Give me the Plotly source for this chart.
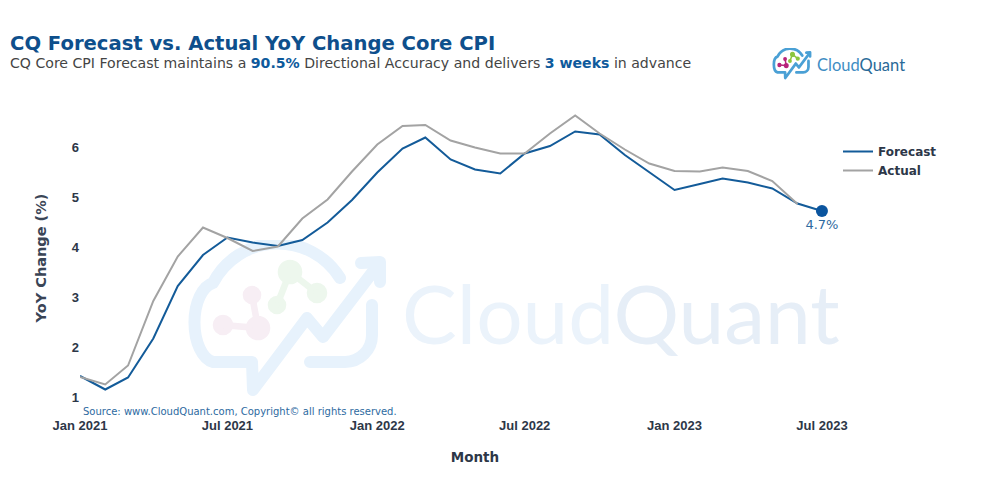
import base64
import plotly.graph_objects as go
import pandas as pd

# monthly points, Jan 2021 .. Jul 2023
months = pd.date_range("2021-01-01", "2023-07-01", freq="MS")

forecast = [1.42, 1.15, 1.39, 2.17, 3.22, 3.84, 4.19, 4.09, 4.02, 4.14, 4.49, 4.94,
            5.49, 5.97, 6.19, 5.75, 5.55, 5.47, 5.87, 6.02, 6.31, 6.25, 5.84, 5.49,
            5.14, 5.26, 5.37, 5.29, 5.17, 4.87, 4.72]
actual = [1.40, 1.25, 1.63, 2.92, 3.81, 4.39, 4.18, 3.92, 4.01, 4.57, 4.95, 5.51,
          6.05, 6.42, 6.44, 6.13, 5.99, 5.87, 5.87, 6.27, 6.63, 6.27, 5.95, 5.67,
          5.52, 5.51, 5.59, 5.52, 5.32, 4.86]

# page layout in pixels (page has an 8px body margin)
W, H = 1000, 500
OFF = 8
L, T = 80 - OFF, 100 - OFF
R, B = W - (870 - OFF), H - (416 - OFF)
PW, PH = W - L - R, H - T - B


def px(x):
    return (x - OFF - L) / PW


def py(y):
    return (H - B - (y - OFF)) / PH


def cloud_svg(stroke, pink, green, sw):
    # cloud + arrow icon, drawn in page pixel coordinates
    svg = f'''<svg xmlns="http://www.w3.org/2000/svg" viewBox="185 240 205 160" width="205" height="160" preserveAspectRatio="none">
<g fill="none" stroke="{stroke}" stroke-width="{sw}" stroke-linecap="round" stroke-linejoin="round">
<path d="M 340 278 A 73 73 0 0 0 213 283 A 22 40 0 0 0 213 362 L 252 362 L 253 390 L 307 318 L 323 337 L 378 265"/>
<path d="M 361 263 L 380 262 L 380 282"/>
<path d="M 372 305 L 372 335 A 27 27 0 0 1 345 362 L 310 362"/>
</g>
<g stroke="{pink}" stroke-width="{sw * 0.55}" fill="{pink}">
<line x1="252" y1="295" x2="258" y2="328"/><line x1="223" y1="325" x2="258" y2="328"/>
<circle cx="252" cy="295" r="6"/><circle cx="223" cy="325" r="7"/><circle cx="258" cy="328" r="9"/>
</g>
<g stroke="{green}" stroke-width="{sw * 0.55}" fill="{green}">
<line x1="277" y1="305" x2="290" y2="272"/><line x1="290" y1="272" x2="317" y2="293"/>
<circle cx="290" cy="272" r="9"/><circle cx="277" cy="305" r="6"/><circle cx="317" cy="293" r="7"/>
</g>
</svg>'''
    return "data:image/svg+xml;base64," + base64.b64encode(svg.encode()).decode()


fig = go.Figure()

fig.add_trace(go.Scatter(
    x=months, y=forecast, name="Forecast", mode="lines",
    line=dict(color="#135b99", width=2)
))
fig.add_trace(go.Scatter(
    x=months[:len(actual)], y=actual, name="Actual", mode="lines",
    line=dict(color="#a3a3a3", width=2)
))
# last forecast point
fig.add_trace(go.Scatter(
    x=[months[-1]], y=[forecast[-1]], mode="markers+text",
    marker=dict(color="#0b559f", size=12),
    text=[f"{forecast[-1]:.1f}%"], textposition="bottom center",
    textfont=dict(family="DejaVu Sans", size=13, color="#2d6aa0"),
    cliponaxis=False, showlegend=False
))

dark = "#2d3748"

fig.update_layout(
    width=W, height=H,
    margin=dict(l=L, r=R, t=T, b=B),
    paper_bgcolor="white",
    plot_bgcolor="rgba(0,0,0,0)",
    font=dict(family="DejaVu Sans", color=dark),
    title=dict(
        text="<b>CQ Forecast vs. Actual YoY Change Core CPI</b>",
        x=2 / W, xanchor="left", y=1 - (43 - OFF) / H, yanchor="middle",
        font=dict(family="DejaVu Sans", size=19.6, color="#0e4f8c")
    ),
    xaxis=dict(
        range=["2021-01-01", "2023-08-29"],
        dtick="M6", tick0="2021-01-01", tickformat="%b %Y",
        showgrid=False, zeroline=False, showline=False,
        tickfont=dict(family="Liberation Sans", size=13, color=dark, weight="bold"),
        title=dict(text="<b>Month</b>", font=dict(family="DejaVu Sans", size=13.5, color=dark), standoff=20)
    ),
    yaxis=dict(
        range=[0.62, 6.94], dtick=1,
        showgrid=False, zeroline=False, showline=False,
        tickfont=dict(family="Liberation Sans", size=13, color=dark, weight="bold"),
        title=dict(text="<b>YoY Change (%)</b>", font=dict(family="DejaVu Sans", size=14.5, color="#3a4556"),
                   standoff=21)
    ),
    legend=dict(
        x=px(838), y=py(137), xanchor="left", yanchor="top",
        font=dict(family="DejaVu Sans", size=12, color=dark, weight="bold"),
        bgcolor="rgba(0,0,0,0)"
    ),
    showlegend=True,
)

# subtitle
fig.add_annotation(
    text='CQ Core CPI Forecast maintains a <b><span style="color:#0e5a9c">90.5%</span></b> '
         'Directional Accuracy and delivers <b><span style="color:#0e5a9c">3 weeks</span></b> in advance',
    xref="paper", yref="paper", x=px(8), y=py(63), xanchor="left", yanchor="middle",
    showarrow=False, font=dict(family="DejaVu Sans", size=14.1, color="#444444")
)

# source note
fig.add_annotation(
    text="Source: www.CloudQuant.com, Copyright© all rights reserved.",
    xref="paper", yref="paper", x=px(81), y=py(411), xanchor="left", yanchor="middle",
    showarrow=False, font=dict(family="DejaVu Sans", size=10, color="#2d6a9f")
)

# watermark
fig.add_annotation(
    text='<span style="color:#ebf3fb">Cloud</span><span style="color:#e6eef7">Quant</span>',
    xref="paper", yref="paper", x=px(621), y=py(312), xanchor="center", yanchor="middle",
    showarrow=False, font=dict(family="Lato", size=82, color="#e8f0f8")
)
fig.add_layout_image(
    source=cloud_svg("#e7f2fc", "#f7eef4", "#edf7ed", 12),
    xref="paper", yref="paper", x=px(185), y=py(240),
    sizex=205 / PW, sizey=160 / PH, xanchor="left", yanchor="top",
    sizing="stretch", layer="below"
)

# logo, top right
fig.add_layout_image(
    source=cloud_svg("#4aa0d5", "#b8247a", "#8cc63f", 14),
    xref="paper", yref="paper", x=px(772), y=py(48),
    sizex=40 / PW, sizey=32 / PH, xanchor="left", yanchor="top",
    sizing="stretch", layer="above"
)
fig.add_annotation(
    text='<span style="color:#3f8ec4">Cloud</span><span style="color:#2a6a98">Quant</span>',
    xref="paper", yref="paper", x=px(815), y=py(65), xanchor="left", yanchor="middle",
    showarrow=False, font=dict(family="Lato", size=16.5)
)

fig.write_html("out.html")
